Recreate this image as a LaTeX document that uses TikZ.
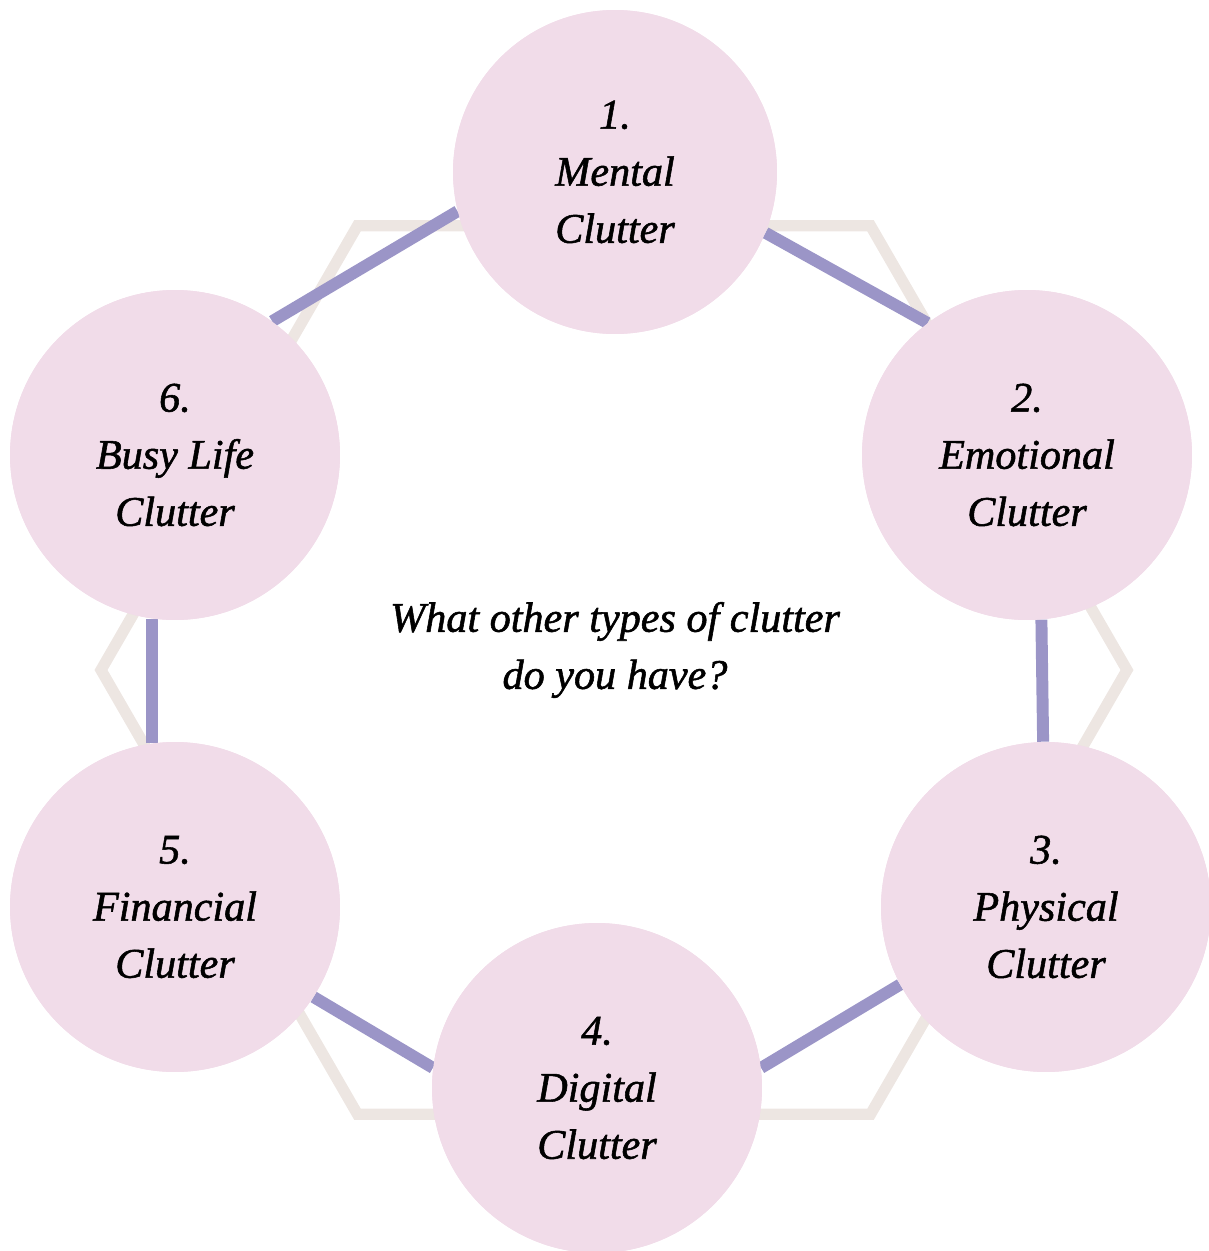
\documentclass[tikz,border=0pt]{standalone}
\usepackage{fontspec}
\setmainfont{Liberation Serif}[ItalicFeatures={FakeBold=1.3}]
\usetikzlibrary{calc}

\definecolor{blush}{HTML}{F1DCE9}
\definecolor{lilac}{HTML}{9B95C7}
\definecolor{sand}{HTML}{EDE6E2}

\begin{document}
\begin{tikzpicture}[
		x=0.02cm, y=-0.02cm,
		hexline/.style={draw=sand,line width=6.4pt,line join=miter},
		link/.style={draw=lilac,line width=6.8pt},
		every node/.style={font=\itshape\fontsize{24}{32.5}\selectfont,align=center},
		blob/.style={circle,fill=blush,minimum size=6.6cm,inner sep=0pt}]

		\useasboundingbox (0,0) rectangle (1209,1251);

		% background hexagon
		\coordinate (o) at (614,670);
		\draw[hexline] ($(o)+(0:513)$) -- ($(o)+(60:513)$) -- ($(o)+(120:513)$)
			-- ($(o)+(180:513)$) -- ($(o)+(240:513)$) -- ($(o)+(300:513)$) -- cycle;

		\node[blob,minimum size=6.48cm] (mental) at (615,172) {};
		\node[blob] (emot) at (1027,455) {};
		\node[blob] (phys) at (1046,907) {};
		\node[blob] (digi) at (597,1088) {};
		\node[blob] (fin)  at (175,907) {};
		\node[blob] (busy) at (175,455) {};

		\draw[link] (mental.-22) -- (emot.127);
		\draw[link] (emot.-85)   -- (phys.91.7);
		\draw[link] (phys.208)   -- (digi.7);
		\draw[link] (digi.173)   -- (fin.-33);
		\draw[link] (fin.98)     -- (busy.262);
		\draw[link] (busy.54)    -- (mental.194.5);

		% circles again on top of the links
		\node[blob,minimum size=6.48cm] at (mental) {1.\\Mental\\Clutter};
		\node[blob] at (emot) {2.\\Emotional\\Clutter};
		\node[blob] at (phys) {3.\\Physical\\Clutter};
		\node[blob] at (digi) {4.\\Digital\\Clutter};
		\node[blob] at (fin)  {5.\\Financial\\Clutter};
		\node[blob] at (busy) {6.\\Busy Life\\Clutter};

		\node (ask) at (615,650) {What other types of clutter\\do you have?};

\end{tikzpicture}
\end{document}
